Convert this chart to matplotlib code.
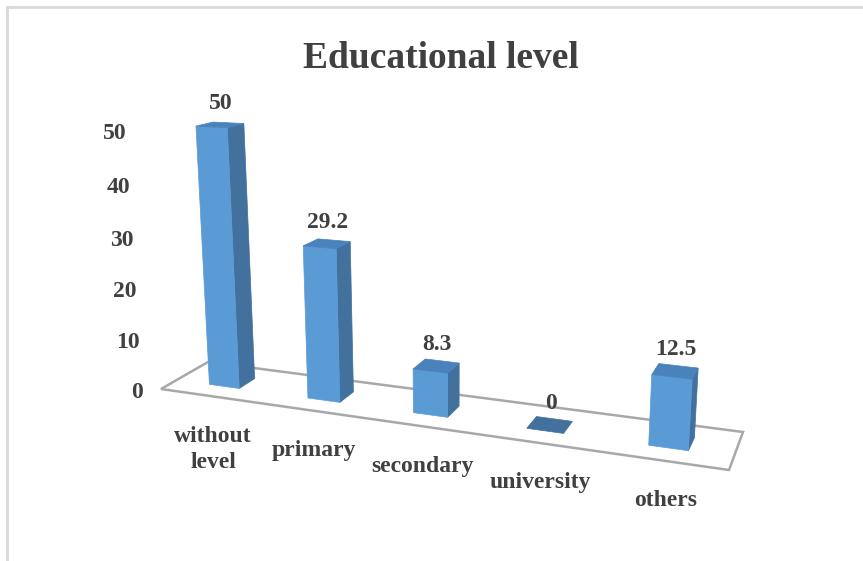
import numpy as np
import matplotlib.pyplot as plt
from matplotlib.patches import Polygon

categories = ["without\nlevel", "primary", "secondary", "university", "others"]
percentages = [50, 29.2, 8.3, 0, 12.5]
value_labels = ["50", "29.2", "8.3", "0", "12.5"]
y_ticks = [0, 10, 20, 30, 40, 50]

TEXT = "#404040"
FRONT = "#5b9bd5"
SIDE = "#41719c"
TOP = "#4a82bb"
SERIF = "Liberation Serif"

# floor placement on the canvas: front-left, front-right, back-right, back-left
FLOOR = [(161, 389), (729, 470), (743, 432), (208, 362)]
# vertical vanishing point and height scale (per percentage point)
V_VANISH = (450.0, 5000.0)
Z_SCALE = -0.00107


def square_to_quad(quad):
    """Homography taking the unit square (u, v) onto the floor quad."""
    (x0, y0), (x1, y1), (x2, y2), (x3, y3) = quad
    dx1, dx2, dx3 = x1 - x2, x3 - x2, x0 - x1 + x2 - x3
    dy1, dy2, dy3 = y1 - y2, y3 - y2, y0 - y1 + y2 - y3
    den = dx1 * dy2 - dx2 * dy1
    g = (dx3 * dy2 - dx2 * dy3) / den
    h = (dx1 * dy3 - dx3 * dy1) / den
    a = x1 - x0 + g * x1
    b = x3 - x0 + h * x3
    d = y1 - y0 + g * y1
    e = y3 - y0 + h * y3
    return np.array([[a, b, x0], [d, e, y0], [g, h, 1.0]])


H = square_to_quad(FLOOR)
P = np.column_stack([H[:, 0], H[:, 1],
                     Z_SCALE * np.array([V_VANISH[0], V_VANISH[1], 1.0]),
                     H[:, 2]])


def project(u, v, z):
    p = P @ np.array([u, v, z, 1.0])
    return p[0] / p[2], p[1] / p[2]


def face(pts):
    return [project(*p) for p in pts]


fig = plt.figure(figsize=(8.63, 5.61), dpi=100)
ax = fig.add_axes([0, 0, 1, 1])
ax.set_xlim(0, 863)
ax.set_ylim(561, 0)
ax.axis("off")

# chart frame (only top and left edges show)
ax.plot([7, 7], [561, 7], color="#d9d9d9", lw=2)
ax.plot([7, 863], [7, 7], color="#d9d9d9", lw=2)

ax.text(441, 68, "Educational level", fontsize=27, fontweight="bold",
        family=SERIF, color=TEXT, ha="center", va="baseline")

# floor
floor = face([(0, 0, 0), (1, 0, 0), (1, 1, 0), (0, 1, 0)])
ax.add_patch(Polygon(floor, closed=True, facecolor="white",
                     edgecolor="#a8a8a8", lw=1.8, zorder=1))

# value axis labels
for t in y_ticks:
    x, y = project(0, 0, t)
    ax.text(x - 18, y + 3 + t * 0.04, str(t), fontsize=17, fontweight="bold",
            family=SERIF, color=TEXT, ha="right", va="center")

n = len(categories)
half_w = 0.031
v0, v1 = 0.325, 0.675
for i, (cat, val, lab) in enumerate(zip(categories, percentages, value_labels)):
    uc = (i + 0.5) / n
    ul, ur = uc - half_w, uc + half_w
    z = 2 + i * 0.01
    if val > 0:
        side = face([(ur, v0, 0), (ur, v1, 0), (ur, v1, val), (ur, v0, val)])
        ax.add_patch(Polygon(side, facecolor=SIDE, edgecolor=SIDE, lw=0.5, zorder=z))
        front = face([(ul, v0, 0), (ur, v0, 0), (ur, v0, val), (ul, v0, val)])
        ax.add_patch(Polygon(front, facecolor=FRONT, edgecolor=FRONT, lw=0.5, zorder=z))
    top = face([(ul, v0, val), (ur, v0, val), (ur, v1, val), (ul, v1, val)])
    ax.add_patch(Polygon(top, facecolor=TOP if val > 0 else SIDE,
                         edgecolor=TOP if val > 0 else SIDE, lw=0.5, zorder=z))

    tx, ty = project(uc, 0.5, val)
    ax.text(tx + 1, ty - 16, lab, fontsize=17, fontweight="bold", family=SERIF,
            color=TEXT, ha="center", va="baseline", zorder=5)

    cx, cy = project(uc, 0, 0)
    ax.text(cx + 4, cy + 30, cat, fontsize=17, fontweight="bold", family=SERIF,
            color=TEXT, ha="center", va="top", linespacing=1.3, zorder=5)

fig.savefig("out.png", dpi=100)
